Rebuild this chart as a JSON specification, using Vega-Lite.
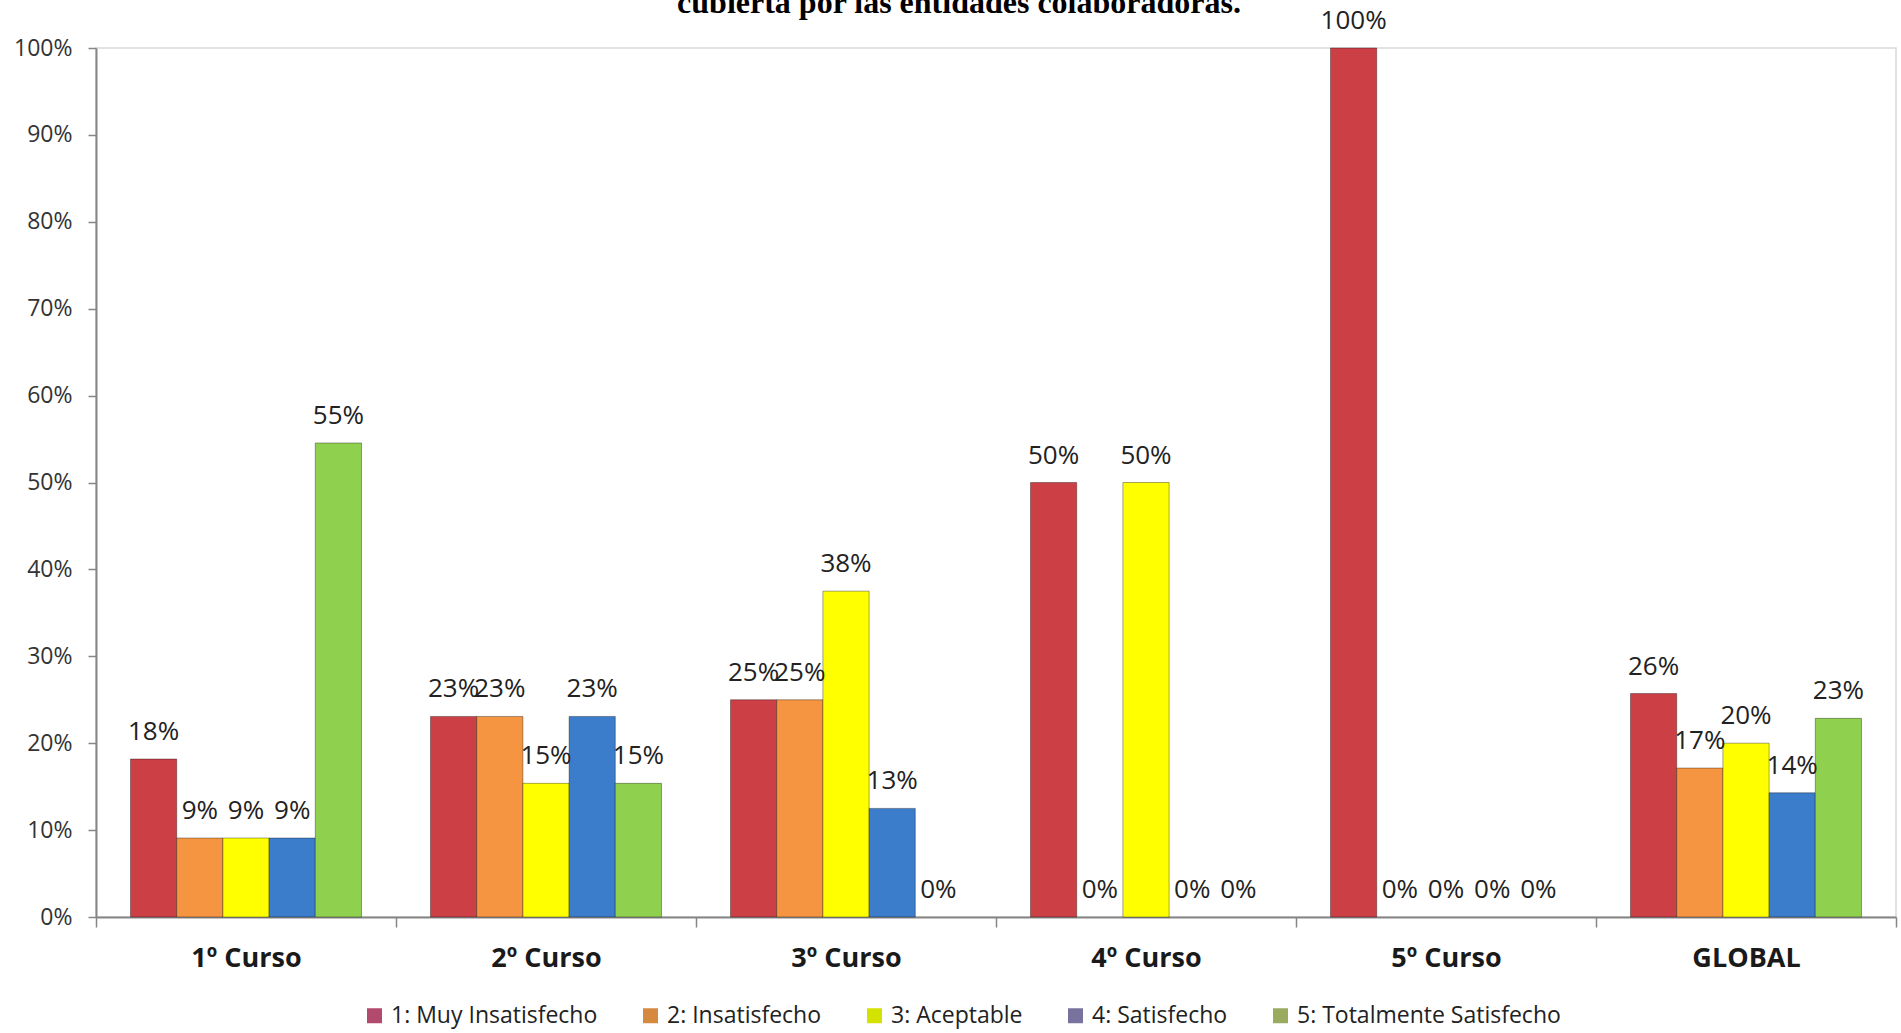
{
  "$schema": "https://vega.github.io/schema/vega-lite/v6.json",
  "width": 1800,
  "height": 869,
  "autosize": {"type": "none"},
  "padding": {"left": 96, "top": 48, "right": 5, "bottom": 116},
  "background": "#ffffff",
  "title": {
    "text": "cubierta por las entidades colaboradoras.",
    "font": "Liberation Serif",
    "fontSize": 32,
    "fontWeight": "bold",
    "color": "#000000",
    "anchor": "middle",
    "frame": "group",
    "baseline": "alphabetic",
    "offset": 0,
    "dy": 37,
    "dx": -37
  },
  "data": {
    "values": [
      {"curso": "1º Curso", "serie": "1: Muy Insatisfecho", "valor": 0.1818},
      {"curso": "1º Curso", "serie": "2: Insatisfecho", "valor": 0.0909},
      {"curso": "1º Curso", "serie": "3: Aceptable", "valor": 0.0909},
      {"curso": "1º Curso", "serie": "4: Satisfecho", "valor": 0.0909},
      {"curso": "1º Curso", "serie": "5: Totalmente Satisfecho", "valor": 0.5455},
      {"curso": "2º Curso", "serie": "1: Muy Insatisfecho", "valor": 0.2308},
      {"curso": "2º Curso", "serie": "2: Insatisfecho", "valor": 0.2308},
      {"curso": "2º Curso", "serie": "3: Aceptable", "valor": 0.1538},
      {"curso": "2º Curso", "serie": "4: Satisfecho", "valor": 0.2308},
      {"curso": "2º Curso", "serie": "5: Totalmente Satisfecho", "valor": 0.1538},
      {"curso": "3º Curso", "serie": "1: Muy Insatisfecho", "valor": 0.25},
      {"curso": "3º Curso", "serie": "2: Insatisfecho", "valor": 0.25},
      {"curso": "3º Curso", "serie": "3: Aceptable", "valor": 0.375},
      {"curso": "3º Curso", "serie": "4: Satisfecho", "valor": 0.125},
      {"curso": "3º Curso", "serie": "5: Totalmente Satisfecho", "valor": 0},
      {"curso": "4º Curso", "serie": "1: Muy Insatisfecho", "valor": 0.5},
      {"curso": "4º Curso", "serie": "2: Insatisfecho", "valor": 0},
      {"curso": "4º Curso", "serie": "3: Aceptable", "valor": 0.5},
      {"curso": "4º Curso", "serie": "4: Satisfecho", "valor": 0},
      {"curso": "4º Curso", "serie": "5: Totalmente Satisfecho", "valor": 0},
      {"curso": "5º Curso", "serie": "1: Muy Insatisfecho", "valor": 1},
      {"curso": "5º Curso", "serie": "2: Insatisfecho", "valor": 0},
      {"curso": "5º Curso", "serie": "3: Aceptable", "valor": 0},
      {"curso": "5º Curso", "serie": "4: Satisfecho", "valor": 0},
      {"curso": "5º Curso", "serie": "5: Totalmente Satisfecho", "valor": 0},
      {"curso": "GLOBAL", "serie": "1: Muy Insatisfecho", "valor": 0.2571},
      {"curso": "GLOBAL", "serie": "2: Insatisfecho", "valor": 0.1714},
      {"curso": "GLOBAL", "serie": "3: Aceptable", "valor": 0.2},
      {"curso": "GLOBAL", "serie": "4: Satisfecho", "valor": 0.1429},
      {"curso": "GLOBAL", "serie": "5: Totalmente Satisfecho", "valor": 0.2286}
    ]
  },
  "encoding": {
    "x": {
      "field": "curso",
      "type": "nominal",
      "sort": ["1º Curso", "2º Curso", "3º Curso", "4º Curso", "5º Curso", "GLOBAL"],
      "scale": {"paddingInner": 0, "paddingOuter": 0},
      "axis": {
        "title": null,
        "labelAngle": 0,
        "tickBand": "extent",
        "tickSize": 10,
        "tickColor": "#868686",
        "tickWidth": 1.5,
        "domainColor": "#868686",
        "domainWidth": 2,
        "labelFont": "Open Sans",
        "labelFontSize": 27,
        "labelFontWeight": "bold",
        "labelColor": "#1a1a1a",
        "labelBaseline": "alphabetic",
        "labelPadding": 39
      }
    },
    "xOffset": {
      "field": "serie",
      "type": "nominal",
      "scale": {"paddingInner": 0, "paddingOuter": 0.747}
    },
    "y": {
      "field": "valor",
      "type": "quantitative",
      "scale": {"domain": [0, 1], "nice": false},
      "axis": {
        "title": null,
        "format": ".0%",
        "values": [0, 0.1, 0.2, 0.3, 0.4, 0.5, 0.6, 0.7, 0.8, 0.9, 1],
        "grid": false,
        "tickSize": 8,
        "tickColor": "#868686",
        "tickWidth": 1.5,
        "domainColor": "#868686",
        "domainWidth": 2,
        "labelFont": "Open Sans",
        "labelFontSize": 23,
        "labelColor": "#333333",
        "labelPadding": 16
      }
    }
  },
  "layer": [
    {
      "transform": [{"filter": "datum.valor > 0"}],
      "mark": {"type": "bar", "stroke": "#000000", "strokeOpacity": 0.35, "strokeWidth": 1},
      "encoding": {
        "color": {
          "field": "serie",
          "type": "nominal",
          "scale": {"domain": ["1: Muy Insatisfecho", "2: Insatisfecho", "3: Aceptable", "4: Satisfecho", "5: Totalmente Satisfecho"], "range": ["#CC3F45", "#F59541", "#FFFF00", "#3C7DCB", "#8FD14F"]},
          "legend": null
        }
      }
    },
    {
      "mark": {"type": "text", "baseline": "alphabetic", "dy": -19, "font": "Open Sans", "fontSize": 26, "color": "#222222"},
      "encoding": {
        "text": {"field": "valor", "type": "quantitative", "format": ".0%"}
      }
    },
    {
      "mark": {"type": "point", "shape": "square", "filled": true, "opacity": 0},
      "encoding": {
        "color": {
          "field": "serie",
          "type": "nominal",
          "scale": {"range": ["#B24A6E", "#D68A40", "#D4E200", "#77739E", "#9AAA5E"]},
          "legend": {
            "title": null,
            "orient": "none",
            "direction": "horizontal",
            "legendX": 267,
            "legendY": 956,
            "symbolType": "square",
            "symbolSize": 225,
            "symbolOpacity": 1,
            "symbolStrokeWidth": 0,
            "labelFont": "Open Sans",
            "labelFontSize": 23,
            "labelColor": "#222222",
            "labelOffset": 5,
            "labelLimit": 0,
            "columnPadding": 41,
            "padding": 0
          }
        }
      }
    }
  ],
  "resolve": {"scale": {"color": "independent"}},
  "config": {
    "view": {"stroke": "#D9D9D9", "strokeWidth": 1.5}
  }
}
